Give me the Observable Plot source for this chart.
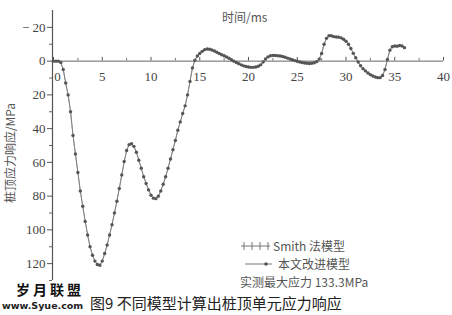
<!DOCTYPE html>
<html>
<head>
<meta charset="utf-8">
<script src="https://cdn.jsdelivr.net/npm/d3@7"></script>
<script src="https://cdn.jsdelivr.net/npm/@observablehq/plot@0.6"></script>
<style>
  html, body { margin: 0; padding: 0; background: #fff; }
  #wrap { position: relative; width: 452px; height: 315px; overflow: hidden; background: #fff; }
  #wrap > svg { position: absolute; left: 0; top: 0; }
  .abs { position: absolute; white-space: nowrap; line-height: 1; }
  .cjk { font-family: "Noto Sans CJK SC", "Noto Sans", sans-serif; }
</style>
</head>
<body>
<div id="wrap"></div>
<script>
// ---- data (time in ms, stress in MPa; compression positive, drawn downward)
const timeMs = [
  0, 0.25, 0.5, 0.75, 1, 1.25, 1.5, 1.75, 2, 2.25, 2.5, 2.75, 3, 3.25, 3.5, 3.75,
  4, 4.25, 4.5, 4.75, 5, 5.25, 5.5, 5.75, 6, 6.25, 6.5, 6.75, 7, 7.25, 7.5, 7.75,
  8, 8.25, 8.5, 8.75, 9, 9.25, 9.5, 9.75, 10, 10.25, 10.5, 10.75, 11, 11.25, 11.5, 11.75,
  12, 12.25, 12.5, 12.75, 13, 13.25, 13.5, 13.75, 14, 14.25, 14.5, 14.75, 15, 15.25, 15.5, 15.75,
  16, 16.25, 16.5, 16.75, 17, 17.25, 17.5, 17.75, 18, 18.25, 18.5, 18.75, 19, 19.25, 19.5, 19.75,
  20, 20.25, 20.5, 20.75, 21, 21.25, 21.5, 21.75, 22, 22.25, 22.5, 22.75, 23, 23.25, 23.5, 23.75,
  24, 24.25, 24.5, 24.75, 25, 25.25, 25.5, 25.75, 26, 26.25, 26.5, 26.75, 27, 27.25, 27.5, 27.75,
  28, 28.25, 28.5, 28.75, 29, 29.25, 29.5, 29.75, 30, 30.25, 30.5, 30.75, 31, 31.25, 31.5, 31.75,
  32, 32.25, 32.5, 32.75, 33, 33.25, 33.5, 33.75, 34, 34.25, 34.5, 34.75, 35, 35.25, 35.5, 35.75, 36
];
const improvedModel = [
  0, 0, 0, 0.8, 5, 13, 20, 30, 44, 55, 66, 77, 86, 95, 103, 110,
  115, 118.5, 120.5, 121, 118.5, 114, 109, 103, 97, 90, 83, 75.5, 67.5, 59.5, 53, 49.5,
  49, 50.5, 54, 58.7, 63.5, 68.5, 72.5, 76.3, 79.5, 81.2, 81.5, 80, 77, 73, 68.5, 63.5,
  58, 52.5, 47, 41, 36, 31, 26.5, 20, 12, 4, -0.5, -3, -4.5, -5.8, -6.8, -7.2,
  -7, -6.6, -6, -5.3, -4.5, -3.8, -3.2, -2.5, -1.7, -0.8, 0, 0.8, 1.5, 2.2, 2.8, 3.2,
  3.5, 3.7, 3.7, 3.5, 3, 2.2, 0.5, -1.3, -2.5, -3.2, -3.4, -3.3, -3.2, -3, -2.7, -2.3,
  -1.8, -1.3, -0.8, -0.3, 0.1, 0.5, 0.8, 1.1, 1.3, 1.4, 1.3, 1, 0.3, -1.2, -4.5, -10,
  -13.5, -15, -15, -14.5, -14.3, -14.2, -13.8, -13, -11.8, -10, -7.5, -4.6, -2, 0.5, 2.7, 4.5,
  5.8, 7, 8, 8.8, 9.4, 9.8, 9.8, 8.5, 5, -1, -6.5, -8.5, -9, -8.8, -9.3, -9, -8
];
// Smith model curve coincides with the improved model curve in the picture
const smithModel = [
  0, 0, 0, 0.8, 5, 13, 20, 30, 44, 55, 66, 77, 86, 95, 103, 110,
  115, 118.5, 120.5, 121, 118.5, 114, 109, 103, 97, 90, 83, 75.5, 67.5, 59.5, 53, 49.5,
  49, 50.5, 54, 58.7, 63.5, 68.5, 72.5, 76.3, 79.5, 81.2, 81.5, 80, 77, 73, 68.5, 63.5,
  58, 52.5, 47, 41, 36, 31, 26.5, 20, 12, 4, -0.5, -3, -4.5, -5.8, -6.8, -7.2,
  -7, -6.6, -6, -5.3, -4.5, -3.8, -3.2, -2.5, -1.7, -0.8, 0, 0.8, 1.5, 2.2, 2.8, 3.2,
  3.5, 3.7, 3.7, 3.5, 3, 2.2, 0.5, -1.3, -2.5, -3.2, -3.4, -3.3, -3.2, -3, -2.7, -2.3,
  -1.8, -1.3, -0.8, -0.3, 0.1, 0.5, 0.8, 1.1, 1.3, 1.4, 1.3, 1, 0.3, -1.2, -4.5, -10,
  -13.5, -15, -15, -14.5, -14.3, -14.2, -13.8, -13, -11.8, -10, -7.5, -4.6, -2, 0.5, 2.7, 4.5,
  5.8, 7, 8, 8.8, 9.4, 9.8, 9.8, 8.5, 5, -1, -6.5, -8.5, -9, -8.8, -9.3, -9, -8
];
const xTickLabels = [0, 5, 10, 15, 20, 25, 30, 35, 40];
const xMinorTicks = [2.5, 7.5, 12.5, 17.5, 22.5, 27.5, 32.5, 37.5];
const yTickLabels = [-20, 0, 20, 40, 60, 80, 100, 120];
const yMinorTicks = [-10, 10, 30, 50, 70, 90, 110, 130];
const xAxisTitle = "时间/ms";
const yAxisTitle = "桩顶应力响应/MPa";
const legendSmith = "Smith 法模型";
const legendImproved = "本文改进模型";
const legendMeasured = "实测最大应力 133.3MPa";
const caption = "图9  不同模型计算出桩顶单元应力响应";

const improved = timeMs.map((t, i) => ({t, v: improvedModel[i]}));
const smith = timeMs.map((t, i) => ({t, v: smithModel[i]}));

const serif = "Liberation Serif, DejaVu Serif, serif";

const chart = Plot.plot({
  width: 452,
  height: 315,
  marginLeft: 53,
  marginRight: 9,
  marginTop: 10,
  marginBottom: 35,
  x: {domain: [0, 40], axis: null},
  y: {domain: [130, -30], axis: null},
  style: {background: "transparent", fontFamily: serif, fontSize: "13px", color: "#444"},
  marks: [
    Plot.ruleX([0], {y1: -30, y2: 130, stroke: "#555", strokeWidth: 1.2, dx: -1}),
    Plot.axisY({ticks: yTickLabels, tickSize: 5, tickPadding: 2, dx: -1, stroke: "#555", label: null,
      fontFamily: serif, fontSize: 13, fill: "#444",
      tickFormat: d => d < 0 ? "− " + (-d) : String(d)}),
    Plot.axisY({ticks: yMinorTicks, tickSize: 3, dx: -1, stroke: "#666", label: null, tickFormat: () => ""}),
    Plot.ruleY([0], {x1: 0, x2: 40, stroke: "#666", strokeWidth: 1}),
    Plot.ruleX(xTickLabels, {x: d => d, y1: 0, y2: -2.2, stroke: "#555"}),
    Plot.ruleX(xMinorTicks, {x: d => d, y1: 0, y2: -1.6, stroke: "#777"}),
    Plot.text(xTickLabels.filter(d => d !== 0), {x: d => d, y: 0, dy: 16, text: d => String(d),
      fontFamily: serif, fontSize: 13, fill: "#444"}),
    Plot.text(xTickLabels.filter(d => d === 0), {x: d => d, y: 0, dy: 16, dx: 4, text: d => String(d),
      fontFamily: serif, fontSize: 13, fill: "#444"}),
    Plot.line(smith, {x: "t", y: "v", stroke: "#888", strokeWidth: 0.8}),
    Plot.line(improved, {x: "t", y: "v", stroke: "#777", strokeWidth: 0.8}),
    Plot.dot(improved, {x: "t", y: "v", r: 1.7, fill: "#555", stroke: "none"})
  ]
});

const wrap = document.getElementById("wrap");
wrap.appendChild(chart);

function addText(txt, css, cls) {
  const d = document.createElement("div");
  d.className = "abs " + (cls || "");
  d.textContent = txt;
  Object.assign(d.style, css);
  wrap.appendChild(d);
  return d;
}

// axis titles
addText(xAxisTitle, {left: "222px", top: "11px", fontSize: "12px", color: "#555"}, "cjk");
addText(yAxisTitle, {left: "10px", top: "153px", fontSize: "12px", color: "#555",
  transform: "translate(-50%, -50%) rotate(-90deg)"}, "cjk");

// legend
const lg = document.createElement("div");
lg.className = "abs";
lg.style.left = "240px"; lg.style.top = "237px";
lg.innerHTML = `
  <div style="display:flex;align-items:center;height:18px">
    <svg width="32" height="14"><line x1="1" y1="7" x2="30" y2="7" stroke="#777" stroke-width="1"/>
      <line x1="4" y1="3" x2="4" y2="11" stroke="#777"/><line x1="12" y1="3" x2="12" y2="11" stroke="#777"/>
      <line x1="20" y1="3" x2="20" y2="11" stroke="#777"/><line x1="28" y1="3" x2="28" y2="11" stroke="#777"/></svg>
    <span class="cjk" style="font-size:12px;color:#555;margin-left:1px">${legendSmith}</span>
  </div>
  <div style="display:flex;align-items:center;height:18px">
    <svg width="36" height="14"><line x1="5" y1="7" x2="32" y2="7" stroke="#777" stroke-width="1"/>
      <circle cx="26" cy="7" r="1.8" fill="#555"/></svg>
    <span class="cjk" style="font-size:12px;color:#555;margin-left:2px">${legendImproved}</span>
  </div>
  <div style="display:flex;align-items:center;height:17px">
    <span class="cjk" style="font-size:12px;color:#555">${legendMeasured}</span>
  </div>`;
wrap.appendChild(lg);

// site mark and caption
addText("岁月联盟", {left: "16px", top: "282px", fontSize: "14px", fontWeight: "bold", color: "#111", letterSpacing: "3px"}, "cjk");
addText("www.Syue.com", {left: "2px", top: "301px", fontSize: "9.5px", fontWeight: "bold", color: "#222",
  fontFamily: "DejaVu Sans"});
addText(caption, {left: "90px", top: "295px", fontSize: "15px", color: "#222"}, "cjk");
</script>
</body>
</html>
